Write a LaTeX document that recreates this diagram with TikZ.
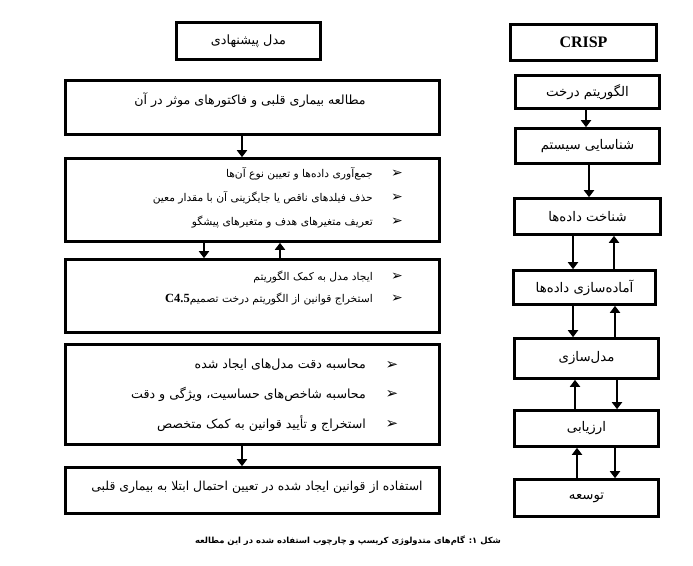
\documentclass[tikz,border=0pt]{standalone}
\usepackage{fontspec}
\setmainfont{Liberation Serif}
\newfontfamily\fa[Script=Arabic]{DejaVu Sans}
\newfontfamily\djv{DejaVu Sans}
\TeXXeTstate=1
\usetikzlibrary{arrows.meta}
\newcommand{\fatx}[1]{\fa\beginR #1\endR}
\begin{document}
\begin{tikzpicture}[x=1pt,y=-1pt,
  box/.style={draw, line width=2.6pt, inner sep=0pt, fill=white},
  arr/.style={line width=2.8pt, -{Triangle[width=10pt,length=7pt]}},
  lbl/.style={inner sep=0pt, font=\fa\fontsize{13.3}{15}\selectfont},
  item/.style={inner sep=0pt, anchor=east},
  sitem/.style={item, font=\fa\fontsize{10.7}{12}\selectfont},
  litem/.style={item, font=\fa\fontsize{12.6}{15}\selectfont},
  bul/.style={inner sep=0pt, font=\djv\fontsize{14}{16}\selectfont}]
\path[use as bounding box, fill=white] (0,0) rectangle (693,565);

% left column
\node[box, minimum width=144pt, minimum height=37pt] (h1) at (248.5,41) {};
\node[lbl, font=\fa\fontsize{12.8}{15}\selectfont] (h1t) at (h1) {\fatx{مدل پیشنهادی}};

\node[box, minimum width=374pt, minimum height=54pt] (b2) at (252.5,107.5) {};
\node[lbl, font=\fa\fontsize{12.6}{15}\selectfont] (b2t) at (250,100) {\fatx{مطالعه بیماری قلبی و فاکتورهای موثر در آن}};

\node[box, minimum width=374pt, minimum height=83pt] (b3) at (252.5,200) {};
\node[bul] (b3a) at (397,174) {➢};
\node[bul] (b3b) at (397,198) {➢};
\node[bul] (b3c) at (397,222) {➢};
\node[sitem] (b3at) at (373,174) {\fatx{جمع‌آوری داده‌ها و تعیین نوع آن‌ها}};
\node[sitem] (b3bt) at (373,198) {\fatx{حذف فیلدهای ناقص یا جایگزینی آن با مقدار معین}};
\node[sitem] (b3ct) at (373,222) {\fatx{تعریف متغیرهای هدف و متغیرهای پیشگو}};

\node[box, minimum width=374pt, minimum height=73pt] (b4) at (252.5,296) {};
\node[bul] (b4a) at (397,277) {➢};
\node[bul] (b4b) at (397,299) {➢};
\node[sitem] (b4at) at (373,277) {\fatx{ایجاد مدل به کمک الگوریتم}};
\node[sitem] (b4bt) at (373,299) {\fatx{استخراج قوانین از الگوریتم درخت تصمیم\beginL\rmfamily\bfseries\fontsize{12.5}{14}\selectfont C4.5\endL}};

\node[box, minimum width=374pt, minimum height=100pt] (b5) at (252.5,394.5) {};
\node[bul, font=\djv\fontsize{15}{17}\selectfont] (b5a) at (392,365) {➢};
\node[bul, font=\djv\fontsize{15}{17}\selectfont] (b5b) at (392,394) {➢};
\node[bul, font=\djv\fontsize{15}{17}\selectfont] (b5c) at (392,424) {➢};
\node[litem] (b5at) at (366,365) {\fatx{محاسبه دقت مدل‌های ایجاد شده}};
\node[litem] (b5bt) at (366,394) {\fatx{محاسبه شاخص‌های حساسیت، ویژگی و دقت}};
\node[litem] (b5ct) at (366,424) {\fatx{استخراج و تأیید قوانین به کمک متخصص}};

\node[box, minimum width=374pt, minimum height=46pt] (b6) at (252.5,490.5) {};
\node[lbl, font=\fa\fontsize{12.4}{15}\selectfont] (b6t) at (257,487) {\fatx{استفاده از قوانین ایجاد شده در تعیین احتمال ابتلا به بیماری قلبی}};

\draw[arr] (b2.south -| 242,0) -- (b3.north -| 242,0);
\draw[arr] (b3.south -| 204,0) -- (b4.north -| 204,0);
\draw[arr] (b4.north -| 280,0) -- (b3.south -| 280,0);
\draw[arr] (b5.south -| 242,0) -- (b6.north -| 242,0);

% right column
\node[box, minimum width=146pt, minimum height=36pt, font=\rmfamily\bfseries\fontsize{16}{18}\selectfont] (c0) at (583.5,42.5) {CRISP};
\node[box, minimum width=144pt, minimum height=33pt] (c1) at (587.5,92) {};
\node[lbl] (c1t) at (c1) {\fatx{الگوریتم درخت}};
\node[box, minimum width=144pt, minimum height=35pt] (c2) at (587.5,146) {};
\node[lbl] (c2t) at (c2) {\fatx{شناسایی سیستم}};
\node[box, minimum width=146pt, minimum height=36pt] (c3) at (587.5,216.5) {};
\node[lbl] (c3t) at (c3) {\fatx{شناخت داده‌ها}};
\node[box, minimum width=142pt, minimum height=34pt] (c4) at (584.5,287.5) {};
\node[lbl] (c4t) at (c4) {\fatx{آماده‌سازی داده‌ها}};
\node[box, minimum width=144pt, minimum height=40pt] (c5) at (586.5,358.5) {};
\node[lbl] (c5t) at (c5) {\fatx{مدل‌سازی}};
\node[box, minimum width=144pt, minimum height=36pt] (c6) at (586.5,428.5) {};
\node[lbl] (c6t) at (c6) {\fatx{ارزیابی}};
\node[box, minimum width=144pt, minimum height=37pt] (c7) at (586.5,498) {};
\node[lbl] (c7t) at (c7) {\fatx{توسعه}};

\draw[arr] (c1.south -| 586,0) -- (c2.north -| 586,0);
\draw[arr] (c2.south -| 589,0) -- (c3.north -| 589,0);
\draw[arr] (c3.south -| 573,0) -- (c4.north -| 573,0);
\draw[arr] (c4.north -| 614,0) -- (c3.south -| 614,0);
\draw[arr] (c4.south -| 573,0) -- (c5.north -| 573,0);
\draw[arr] (c5.north -| 615,0) -- (c4.south -| 615,0);
\draw[arr] (c6.north -| 575,0) -- (c5.south -| 575,0);
\draw[arr] (c5.south -| 617,0) -- (c6.north -| 617,0);
\draw[arr] (c7.north -| 577,0) -- (c6.south -| 577,0);
\draw[arr] (c6.south -| 615,0) -- (c7.north -| 615,0);

% caption
\node[inner sep=0pt, font=\fa\bfseries\fontsize{8.4}{10}\selectfont] (cap) at (348,541) {\fatx{شکل ۱: گام‌های متدولوژی کریسپ و چارچوب استفاده شده در این مطالعه}};
\end{tikzpicture}
\end{document}
